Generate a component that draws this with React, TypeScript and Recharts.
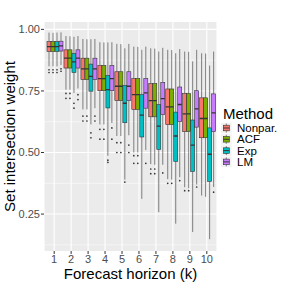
import React from "react";
import { BarChart, Bar, XAxis, YAxis, CartesianGrid, Label } from "recharts";

const horizons = ["1", "2", "3", "4", "5", "6", "7", "8", "9", "10"];
const methods = ["Nonpar.", "ACF", "Exp", "LM"];
const colors = ["#F8766D", "#7CAE00", "#00BFC4", "#C77CFF"];

// [lower whisker, q1, median, q3, upper whisker] per horizon
const nonparStats = [
  [0.85, 0.91, 0.93, 0.95, 0.987],
  [0.755, 0.843, 0.883, 0.917, 0.973],
  [0.675, 0.796, 0.84, 0.883, 0.961],
  [0.614, 0.751, 0.8, 0.853, 0.948],
  [0.567, 0.711, 0.769, 0.828, 0.941],
  [0.5, 0.675, 0.735, 0.8, 0.93],
  [0.453, 0.645, 0.711, 0.78, 0.923],
  [0.392, 0.613, 0.685, 0.758, 0.917],
  [0.359, 0.585, 0.657, 0.739, 0.91],
  [0.325, 0.56, 0.638, 0.722, 0.903],
];
const acfStats = [
  [0.85, 0.91, 0.93, 0.95, 0.986],
  [0.755, 0.843, 0.883, 0.917, 0.972],
  [0.675, 0.796, 0.84, 0.883, 0.96],
  [0.614, 0.751, 0.8, 0.853, 0.947],
  [0.567, 0.711, 0.769, 0.828, 0.94],
  [0.5, 0.675, 0.735, 0.8, 0.929],
  [0.45, 0.645, 0.711, 0.78, 0.922],
  [0.39, 0.613, 0.685, 0.758, 0.916],
  [0.355, 0.585, 0.657, 0.739, 0.909],
  [0.32, 0.56, 0.638, 0.722, 0.902],
];
const expStats = [
  [0.85, 0.91, 0.93, 0.95, 0.987],
  [0.742, 0.825, 0.868, 0.903, 0.97],
  [0.614, 0.749, 0.809, 0.859, 0.96],
  [0.487, 0.681, 0.755, 0.813, 0.947],
  [0.39, 0.621, 0.7, 0.773, 0.923],
  [0.312, 0.563, 0.652, 0.735, 0.917],
  [0.258, 0.513, 0.607, 0.695, 0.91],
  [0.211, 0.464, 0.567, 0.664, 0.903],
  [0.177, 0.423, 0.53, 0.632, 0.87],
  [0.148, 0.383, 0.493, 0.6, 0.853],
];
const lmStats = [
  [0.855, 0.912, 0.933, 0.952, 0.988],
  [0.76, 0.843, 0.883, 0.917, 0.973],
  [0.68, 0.796, 0.84, 0.883, 0.961],
  [0.62, 0.751, 0.8, 0.853, 0.948],
  [0.57, 0.711, 0.769, 0.828, 0.941],
  [0.51, 0.68, 0.742, 0.8, 0.93],
  [0.45, 0.654, 0.719, 0.785, 0.925],
  [0.4, 0.626, 0.695, 0.766, 0.92],
  [0.37, 0.603, 0.677, 0.751, 0.917],
  [0.36, 0.585, 0.661, 0.738, 0.91],
];

const nonparOutliers = [
  [0.836, 0.825], [0.74, 0.72], [0.648, 0.628], [0.594, 0.554], [0.54, 0.5],
  [0.487, 0.456], [0.433, 0.414], [0.375], [0.345], [],
];
const acfOutliers = [
  [0.836, 0.825], [0.74, 0.72], [0.648, 0.628], [0.594, 0.554], [0.54, 0.5],
  [0.487, 0.456], [0.433, 0.414], [0.375], [0.345], [],
];
const expOutliers = [
  [0.836, 0.825], [0.7, 0.68], [0.58, 0.56], [0.469, 0.46], [0.38],
  [], [], [], [], [],
];
const lmOutliers = [
  [0.84, 0.83], [0.735, 0.715], [0.648, 0.628], [0.6, 0.554], [0.53, 0.5],
  [0.456], [0.417], [0.386], [0.36], [0.339],
];

const allStats = [nonparStats, acfStats, expStats, lmStats];
const allOutliers = [nonparOutliers, acfOutliers, expOutliers, lmOutliers];

const majorTicks = [0.25, 0.5, 0.75, 1.0];
const minorTicks = [0.125, 0.375, 0.625, 0.875];

const data = horizons.map((k, i) => {
  const row: any = { k };
  methods.forEach((_, m) => {
    row[`s${m}`] = allStats[m][i];
    row[`o${m}`] = allOutliers[m][i];
  });
  return row;
});

const FONT = "'Liberation Sans', Arial, sans-serif";
const LINE = "#333333";

function makeBox(m: number) {
  return (props: any) => {
    const { x, y, width, height, payload } = props;
    const s = payload[`s${m}`];
    const outs: number[] = payload[`o${m}`];
    const lo = s[0];
    const hi = s[4];
    const top = Math.min(y, y + height);
    const h = Math.abs(height);
    const py = (v: number) => top + ((hi - v) / (hi - lo)) * h;
    const cx = x + width / 2;
    return (
      <g>
        <line x1={cx} x2={cx} y1={py(hi)} y2={py(s[3])} stroke={LINE} strokeWidth={0.6} />
        <line x1={cx} x2={cx} y1={py(s[1])} y2={py(lo)} stroke={LINE} strokeWidth={0.6} />
        <rect
          x={x}
          y={py(s[3])}
          width={width}
          height={py(s[1]) - py(s[3])}
          fill={colors[m]}
          stroke={LINE}
          strokeWidth={0.6}
        />
        <line x1={x} x2={x + width} y1={py(s[2])} y2={py(s[2])} stroke={LINE} strokeWidth={1.3} />
        {outs.map((v, j) => (
          <circle key={j} cx={cx} cy={py(v)} r={0.85} fill={LINE} />
        ))}
      </g>
    );
  };
}

function LegendBox() {
  return (
    <svg
      width={66}
      height={74}
      style={{ position: "absolute", left: 218, top: 100, fontFamily: FONT }}
    >
      <text x={5} y={19} fontSize={15} fill="#000">
        Method
      </text>
      {methods.map((name, i) => {
        const cy = 28 + i * 11.3;
        return (
          <g key={name}>
            <rect x={3} y={cy - 5.3} width={10.6} height={10.6} fill="#F2F2F2" />
            <line x1={8.3} x2={8.3} y1={cy - 4.5} y2={cy + 4.5} stroke={LINE} strokeWidth={0.6} />
            <rect x={5.3} y={cy - 2.8} width={6} height={5.6} fill={colors[i]} stroke={LINE} strokeWidth={0.6} />
            <line x1={5.3} x2={11.3} y1={cy} y2={cy} stroke={LINE} strokeWidth={1} />
            <text x={19} y={cy + 4} fontSize={11.5} fill="#000">
              {name}
            </text>
          </g>
        );
      })}
    </svg>
  );
}

export default function App() {
  return (
    <div style={{ position: "absolute", left: 0, top: 0, width: 284, height: 284, background: "#fff" }}>
      <BarChart
        width={284}
        height={284}
        data={data}
        margin={{ top: 22, right: 67, bottom: 0, left: 0 }}
        barCategoryGap={1.3}
        barGap={0}
        style={{ fontFamily: FONT }}
      >
        <CartesianGrid
          fill="#EBEBEB"
          stroke="#FFFFFF"
          strokeWidth={0.5}
          horizontalValues={minorTicks}
          vertical={false}
        />
        <CartesianGrid stroke="#FFFFFF" strokeWidth={1.1} horizontalValues={majorTicks} />
        <XAxis
          dataKey="k"
          height={33}
          padding={{ left: 1.7, right: 1.7 }}
          axisLine={false}
          tickSize={3}
          tickMargin={1}
          tickLine={{ stroke: LINE }}
          tick={{ fontSize: 11, fill: "#4D4D4D" }}
          interval={0}
        >
          <Label
            content={(p: any) => {
              const vb = p.viewBox || { x: 44, width: 173 };
              return (
                <text
                  x={vb.x + vb.width / 2}
                  y={279}
                  textAnchor="middle"
                  fontSize={15}
                  fill="#000"
                  fontFamily={FONT}
                >
                  Forecast horizon (k)
                </text>
              );
            }}
          />
        </XAxis>
        <YAxis
          width={44}
          domain={[0.1, 1.03]}
          ticks={majorTicks}
          type="number"
          allowDataOverflow
          axisLine={false}
          tickSize={3}
          tickMargin={1}
          tickLine={{ stroke: LINE }}
          tick={{ fontSize: 11, fill: "#4D4D4D" }}
          tickFormatter={(v: number) => v.toFixed(2)}
        >
          <Label
            content={(p: any) => {
              const vb = p.viewBox || { y: 22, height: 229 };
              const cy = vb.y + vb.height / 2;
              return (
                <text
                  x={15}
                  y={cy}
                  transform={`rotate(-90, 15, ${cy})`}
                  textAnchor="middle"
                  fontSize={15}
                  fill="#000"
                  fontFamily={FONT}
                >
                  Set intersection weight
                </text>
              );
            }}
          />
        </YAxis>
        {methods.map((name, m) => (
          <Bar
            key={name}
            name={name}
            dataKey={(d: any) => [d[`s${m}`][0], d[`s${m}`][4]]}
            fill={colors[m]}
            shape={makeBox(m)}
            isAnimationActive={false}
          />
        ))}
      </BarChart>
      <LegendBox />
    </div>
  );
}
